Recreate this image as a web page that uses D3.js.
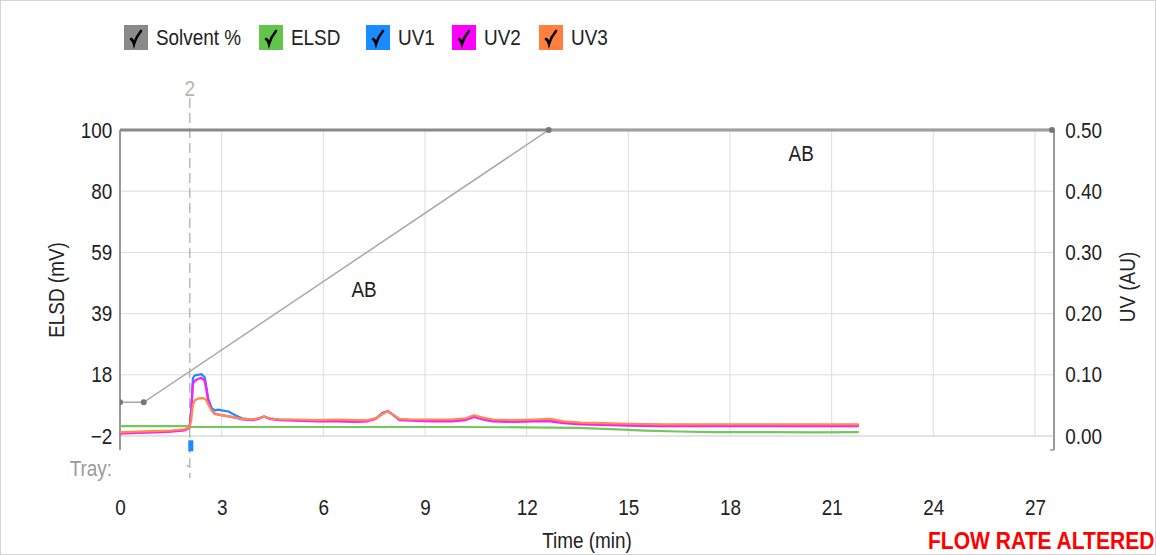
<!DOCTYPE html>
<html>
<head>
<meta charset="utf-8">
<script src="https://cdn.jsdelivr.net/npm/d3@7"></script>
<style>
  body { margin: 0; background: #fff; }
  text { font-family: "Liberation Sans", Arial, sans-serif; }
</style>
</head>
<body>
<script>
// ---------------- DATA ----------------
const legendLabels = ["Solvent %", "ELSD", "UV1", "UV2", "UV3"];
const legendColors = ["#8a8a8a", "#62c44a", "#1a8cff", "#ff00ff", "#ff7f3f"];

const xTickValues = [0, 3, 6, 9, 12, 15, 18, 21, 24, 27];
const leftTickValues = [-2, 18.4, 38.8, 59.2, 79.6, 100];   // shown as -2,18,39,59,80,100
const rightTickValues = [0, 0.1, 0.2, 0.3, 0.4, 0.5];

// Solvent gradient (min, %)
const solventTime = [0, 0.7, 12.65, 27.5];
const solventPct = [11, 11, 100, 100];

// Gradient annotations (min, %)
const abTime = [7.2, 20.1];
const abPct = [48, 92.5];
const abText = ["AB", "AB"];

// Injection marker (min)
const injectTime = 2.06;
const injectLabel = "2";

// UV traces (min, AU)
const uvTime = [0, 0.5, 1.0, 1.5, 1.9, 2.05, 2.1, 2.15, 2.2, 2.3, 2.4, 2.5, 2.55, 2.6, 2.7, 2.8, 2.9, 3.0, 3.2, 3.4,
  3.6, 3.9, 4.1, 4.25, 4.4, 4.7, 5.2, 5.8, 6.4, 7.0, 7.3, 7.55, 7.75, 7.9, 8.05, 8.25, 8.6, 9.2, 9.8, 10.2,
  10.45, 10.7, 11.0, 11.6, 12.2, 12.7, 13.1, 13.6, 14.2, 15.0, 16.0, 17.0, 18.0, 19.0, 20.0, 21.0, 21.8];
const uv1 = [0.005, 0.006, 0.007, 0.008, 0.010, 0.014, 0.040, 0.094, 0.099, 0.100, 0.101, 0.096, 0.080, 0.062, 0.046, 0.042, 0.043, 0.042, 0.040, 0.034,
  0.029, 0.027, 0.029, 0.032, 0.029, 0.027, 0.026, 0.026, 0.026, 0.025, 0.025, 0.029, 0.038, 0.040, 0.035, 0.027, 0.026, 0.026, 0.026, 0.028,
  0.032, 0.029, 0.026, 0.025, 0.026, 0.026, 0.022, 0.021, 0.020, 0.019, 0.018, 0.018, 0.018, 0.018, 0.018, 0.018, 0.018];
const uv2 = [0.004, 0.005, 0.006, 0.007, 0.009, 0.013, 0.035, 0.085, 0.090, 0.093, 0.095, 0.090, 0.075, 0.058, 0.042, 0.036, 0.035, 0.034, 0.032, 0.030,
  0.027, 0.026, 0.028, 0.032, 0.028, 0.026, 0.025, 0.024, 0.024, 0.023, 0.024, 0.028, 0.037, 0.041, 0.035, 0.026, 0.025, 0.024, 0.024, 0.026,
  0.031, 0.027, 0.024, 0.023, 0.024, 0.024, 0.021, 0.019, 0.018, 0.017, 0.016, 0.016, 0.016, 0.016, 0.016, 0.016, 0.016];
const uv3 = [0.006, 0.007, 0.008, 0.009, 0.011, 0.014, 0.025, 0.050, 0.058, 0.061, 0.062, 0.061, 0.058, 0.052, 0.042, 0.037, 0.035, 0.034, 0.032, 0.030,
  0.028, 0.027, 0.029, 0.032, 0.029, 0.027, 0.027, 0.026, 0.027, 0.026, 0.026, 0.029, 0.036, 0.040, 0.035, 0.028, 0.027, 0.027, 0.027, 0.029,
  0.034, 0.030, 0.027, 0.026, 0.027, 0.028, 0.024, 0.022, 0.021, 0.020, 0.019, 0.019, 0.019, 0.019, 0.019, 0.019, 0.019];

// ELSD trace (min, mV)
const elsdTime = [0, 2.0, 2.1, 4.0, 6.0, 8.0, 10.0, 12.0, 13.5, 14.5, 15.5, 16.5, 17.5, 19.0, 20.5, 21.8];
const elsdValues = [1.3, 1.3, 1.0, 1.0, 1.0, 1.0, 1.0, 0.9, 0.7, 0.3, -0.2, -0.5, -0.7, -0.7, -0.8, -0.7];

// ---------------- CHART ----------------
const W = 1156, H = 555;
const svg = d3.select("body").append("svg").attr("width", W).attr("height", H);

const x = d3.scaleLinear().domain([0, 27.56]).range([120, 1054]);
const yL = d3.scaleLinear().domain([-2, 100]).range([436, 130]);
const yR = d3.scaleLinear().domain([0, 0.5]).range([436, 130]);
const yS = d3.scaleLinear().domain([0, 100]).range([436, 130]);
const plotTop = 130, plotBottom = 450, plotLeft = 120, plotRight = 1054;
const fs = "22px", SX = 0.86;

// condensed text helper
function label(parent, px, py, str, opts = {}) {
  const t = parent.append("text")
    .attr("transform", `translate(${px},${py})${opts.rotate ? " rotate(" + opts.rotate + ")" : ""} scale(${SX},1)`)
    .attr("font-size", opts.size || fs)
    .attr("fill", opts.fill || "#222")
    .attr("text-anchor", opts.anchor || "start")
    .text(str);
  if (opts.weight) t.attr("font-weight", opts.weight);
  if (opts.dy) t.attr("dy", opts.dy);
  return t;
}

// outer border
svg.append("rect").attr("x", 0.5).attr("y", 0.5).attr("width", W - 1).attr("height", H - 1)
  .attr("fill", "none").attr("stroke", "#d4d4d4");

// gridlines
svg.append("g").selectAll("line").data(leftTickValues).join("line")
  .attr("x1", plotLeft).attr("x2", plotRight)
  .attr("y1", d => yL(d)).attr("y2", d => yL(d))
  .attr("stroke", (d, i) => i === 0 ? "#c8c8c8" : "#dcdcdc").attr("stroke-width", 1);
svg.append("g").selectAll("line").data(xTickValues.filter(d => d > 0)).join("line")
  .attr("x1", d => x(d)).attr("x2", d => x(d))
  .attr("y1", plotTop).attr("y2", yL(-2))
  .attr("stroke", "#dcdcdc").attr("stroke-width", 1);

// axes
const gL = svg.append("g").attr("transform", `translate(${plotLeft},0)`)
  .call(d3.axisLeft(yL).tickValues(leftTickValues).tickFormat(d3.format(".0f")).tickSize(0).tickPadding(9));
const gR = svg.append("g").attr("transform", `translate(${plotRight},0)`)
  .call(d3.axisRight(yR).tickValues(rightTickValues).tickFormat(d3.format(".2f")).tickSize(0).tickPadding(13));
const gB = svg.append("g").attr("transform", `translate(0,499)`)
  .call(d3.axisBottom(x).tickValues(xTickValues).tickFormat(d3.format("d")).tickSize(0).tickPadding(0));
[gL, gR, gB].forEach(g => {
  g.select(".domain").remove();
  g.selectAll("text").attr("font-size", fs).attr("fill", "#222")
    .attr("font-family", '"Liberation Sans", Arial, sans-serif')
    .attr("transform", `scale(${SX},1)`);
});

// frame lines
svg.append("line").attr("x1", plotLeft).attr("x2", plotLeft).attr("y1", plotTop).attr("y2", plotBottom)
  .attr("stroke", "#9a9a9a").attr("stroke-width", 2);
svg.append("line").attr("x1", plotRight).attr("x2", plotRight).attr("y1", plotTop).attr("y2", plotBottom)
  .attr("stroke", "#9a9a9a").attr("stroke-width", 2);
svg.append("line").attr("x1", plotRight - 4).attr("x2", plotRight).attr("y1", plotBottom).attr("y2", plotBottom)
  .attr("stroke", "#9a9a9a").attr("stroke-width", 1.5);

// axis titles
label(svg, 64, 290, "ELSD (mV)", { rotate: -90, anchor: "middle" });
label(svg, 1135, 287, "UV (AU)", { rotate: -90, anchor: "middle" });
label(svg, 587, 548, "Time (min)", { anchor: "middle" });
label(svg, 928, 549, "FLOW RATE ALTERED", { size: "24.5px", weight: "bold", fill: "#ff0000" });
label(svg, 112, 476, "Tray:", { anchor: "end", fill: "#9a9a9a" });

// clip
svg.append("clipPath").attr("id", "clip").append("rect")
  .attr("x", plotLeft).attr("y", plotTop - 3).attr("width", plotRight - plotLeft + 2).attr("height", plotBottom - plotTop + 3);

// injection dashed line
svg.append("line").attr("x1", x(injectTime)).attr("x2", x(injectTime)).attr("y1", 98).attr("y2", 478)
  .attr("stroke", "#9a9a9a").attr("stroke-width", 1).attr("stroke-dasharray", "10,5");
label(svg, x(injectTime), 96, injectLabel, { anchor: "middle", fill: "#b4b4b4" });
svg.append("rect").attr("x", x(injectTime) - 1.5).attr("y", yR(-0.007)).attr("width", 5).attr("height", 11)
  .attr("fill", "#1a8cff");
svg.append("line").attr("x1", x(injectTime) - 3).attr("x2", x(injectTime)).attr("y1", 466).attr("y2", 466)
  .attr("stroke", "#e0a070").attr("stroke-width", 1.5);

const plot = svg.append("g").attr("clip-path", "url(#clip)");

// solvent gradient
const solvent = solventTime.map((t, i) => [t, solventPct[i]]);
plot.append("line").attr("x1", plotLeft).attr("x2", plotRight).attr("y1", plotTop).attr("y2", plotTop)
  .attr("stroke", "#8a8a8a").attr("stroke-width", 3);
plot.append("path").datum(solvent)
  .attr("d", d3.line().x(d => x(d[0])).y(d => yS(d[1])))
  .attr("fill", "none").attr("stroke", "#a8a8a8").attr("stroke-width", 1.5);
plot.append("g").selectAll("circle").data(solvent).join("circle")
  .attr("cx", d => x(d[0])).attr("cy", d => yS(d[1])).attr("r", 3).attr("fill", "#777");

// traces
const lineUV = d3.line().x(d => x(d[0])).y(d => yR(d[1]));
const lineE = d3.line().x(d => x(d[0])).y(d => yL(d[1]));
plot.append("path").datum(elsdTime.map((t, i) => [t, elsdValues[i]]))
  .attr("d", lineE).attr("fill", "none").attr("stroke", "#72c85a").attr("stroke-width", 2.2);
[[uv1, "#1e8cff"], [uv2, "#ff1aff"], [uv3, "#ff8a4a"]].forEach(([vals, c]) => {
  plot.append("path").datum(uvTime.map((t, i) => [t, vals[i]]))
    .attr("d", lineUV).attr("fill", "none").attr("stroke", c).attr("stroke-width", 2.2)
    .attr("stroke-linejoin", "round");
});

// AB annotations
abTime.forEach((t, i) => label(svg, x(t), yS(abPct[i]), abText[i], { anchor: "middle", dy: "0.35em" }));

// legend
const boxX = [124, 259, 366, 452, 539];
const leg = svg.append("g").selectAll("g").data(legendLabels).join("g")
  .attr("transform", (d, i) => `translate(${boxX[i]},25)`);
leg.append("rect").attr("width", 24).attr("height", 25).attr("fill", (d, i) => legendColors[i]);
leg.append("path").attr("d", "M7,14 Q9,15 10,19 Q12,12 17,6")
  .attr("fill", "none").attr("stroke", "#000").attr("stroke-width", 2.6).attr("stroke-linecap", "round");
leg.each(function (d) { label(d3.select(this), 32, 12.5, d, { dy: "0.35em" }); });
</script>
</body>
</html>
